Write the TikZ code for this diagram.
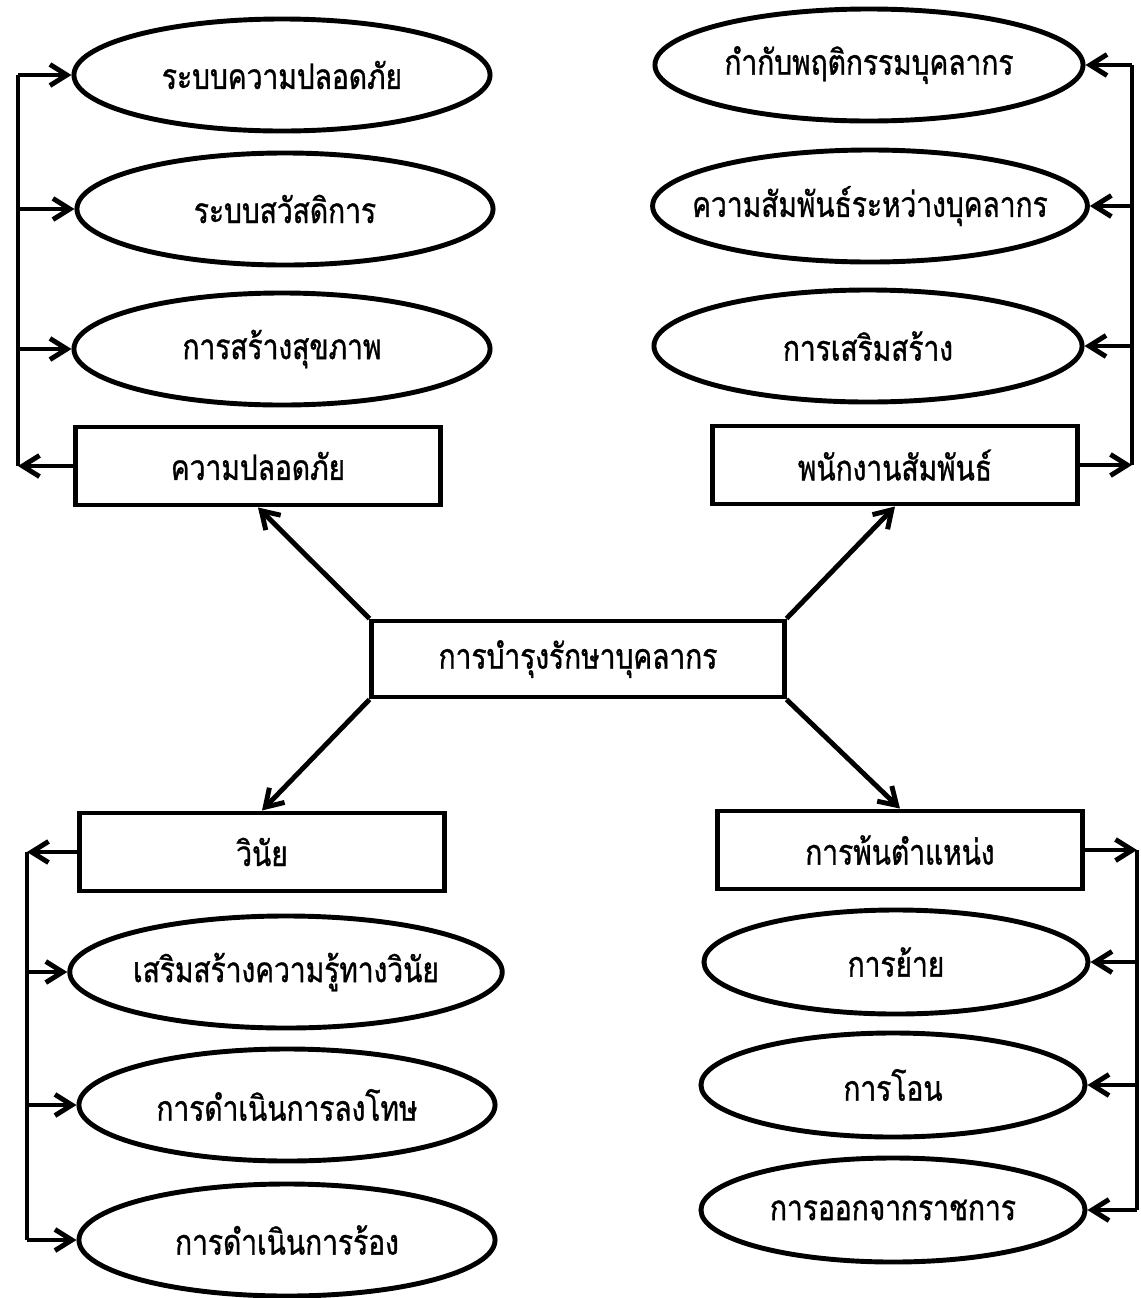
\documentclass[tikz,border=0pt]{standalone}
\usepackage{fontspec}
\usepackage{tikz}
\usetikzlibrary{shapes.geometric,arrows.meta}
\newfontfamily\thaifont[Script=Thai,FakeStretch=0.8,FakeBold=1]{Loma}
\tikzset{
    topic-box/.style = {draw, rectangle, line width=3.5pt, minimum width=9.1cm, minimum height=1.95cm, inner sep=0pt, font=\thaifont\fontsize{25}{30}\selectfont},
    item-ellipse/.style = {draw, ellipse, line width=3.5pt, minimum width=10.4cm, minimum height=2.8cm, inner sep=0pt, font=\thaifont\fontsize{25}{30}\selectfont},
    link-line/.style = {line width=3.5pt},
    link-arrow/.style = {line width=3.5pt, -{Straight Barb[length=12pt,width=15pt]}},
}
\begin{document}
\begin{tikzpicture}[x=0.025cm, y=-0.025cm]
\useasboundingbox (0,0) rectangle (1140,1298);

\node [topic-box, minimum width=10.3cm, minimum height=1.9cm] (core) at (578,659) {การบำรุงรักษาบุคลากร};

\node [topic-box] (safety) at (258,466) {ความปลอดภัย};
\node [item-ellipse] (safety-1) at (282,75) {ระบบความปลอดภัย};
\node [item-ellipse] (safety-2) at (285,209) {ระบบสวัสดิการ};
\node [item-ellipse] (safety-3) at (282,349) {การสร้างสุขภาพ};

\node [topic-box] (relation) at (895,465) {พนักงานสัมพันธ์};
\node [item-ellipse, minimum width=10.7cm] (relation-1) at (869,65) {กำกับพฤติกรรมบุคลากร};
\node [item-ellipse, minimum width=10.7cm, inner xsep=-0.6cm] (relation-2) at (870,206) {ความสัมพันธ์ระหว่างบุคลากร};
\node [item-ellipse, minimum width=10.7cm] (relation-3) at (868,346) {การเสริมสร้าง};

\node [topic-box] (discipline) at (262,852) {วินัย};
\node [item-ellipse] (discipline-1) at (286,972) {เสริมสร้างความรู้ทางวินัย};
\node [item-ellipse] (discipline-2) at (287,1105) {การดำเนินการลงโทษ};
\node [item-ellipse] (discipline-3) at (287,1240) {การดำเนินการร้อง};

\node [topic-box] (leaving) at (900,850) {การพ้นตำแหน่ง};
\node [item-ellipse, minimum width=9.6cm, minimum height=2.6cm] (leaving-1) at (896,962) {การย้าย};
\node [item-ellipse, minimum width=9.6cm, minimum height=2.6cm] (leaving-2) at (893,1085) {การโอน};
\node [item-ellipse, minimum width=9.6cm, minimum height=2.6cm] (leaving-3) at (893,1210) {การออกจากราชการ};

\coordinate (safety-bus) at (18,0);
\coordinate (relation-bus) at (1132,0);
\coordinate (discipline-bus) at (27,0);
\coordinate (leaving-bus) at (1137,0);

\draw [link-arrow] (core.north west) -- (safety.south);
\draw [link-arrow] (core.north east) -- (relation.south);
\draw [link-arrow] (core.south west) -- (discipline.north);
\draw [link-arrow] (core.south east) -- (leaving.north);

\draw [link-line] (safety-bus |- safety-1) -- (safety-bus |- safety);
\draw [link-arrow] (safety.west) -- (safety-bus |- safety);
\foreach \i in {1,2,3}
    \draw [link-arrow] (safety-bus |- safety-\i) -- (safety-\i.west);

\draw [link-line] (relation-bus |- relation-1) -- (relation-bus |- relation);
\draw [link-arrow] (relation.east) -- (relation-bus |- relation);
\foreach \i in {1,2,3}
    \draw [link-arrow] (relation-bus |- relation-\i) -- (relation-\i.east);

\draw [link-line] (discipline-bus |- discipline) -- (discipline-bus |- discipline-3);
\draw [link-arrow] (discipline.west) -- (discipline-bus |- discipline);
\foreach \i in {1,2,3}
    \draw [link-arrow] (discipline-bus |- discipline-\i) -- (discipline-\i.west);

\draw [link-line] (leaving-bus |- leaving) -- (leaving-bus |- leaving-3);
\draw [link-arrow] (leaving.east) -- (leaving-bus |- leaving);
\foreach \i in {1,2,3}
    \draw [link-arrow] (leaving-bus |- leaving-\i) -- (leaving-\i.east);
\end{tikzpicture}
\end{document}
